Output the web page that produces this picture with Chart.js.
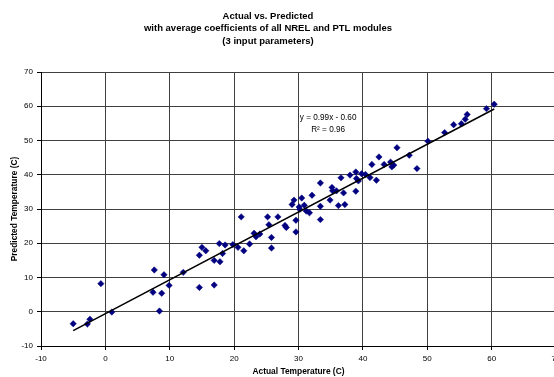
<!DOCTYPE html>
<html>
<head>
<meta charset="utf-8">
<script src="https://cdn.jsdelivr.net/npm/chart.js@4"></script>
<style>
    html, body { margin: 0; padding: 0; background: #fff; overflow: hidden; }
    canvas { display: block; }
</style>
</head>
<body>
<canvas id="chart" width="600" height="377"></canvas>
<script>
// ==================== DATA ====================
const titleLines = ['Actual vs. Predicted', 'with average coefficients of all NREL and PTL modules', '(3 input parameters)'];
const xAxisTitle = 'Actual Temperature (C)';
const yAxisTitle = 'Predicted Temperature (C)';

// actual temperature (x) and predicted temperature (y)
const actualTemps = [
    -5.0, -2.8, -2.4, -0.7, 1.0, 7.6, 7.4, 8.4, 8.75, 9.1,
    9.9, 12.1, 14.6, 15.0, 15.6, 14.6, 16.9, 16.9, 17.8, 18.2,
    17.7, 18.6, 19.8, 20.6, 21.5, 21.1, 22.4, 23.1, 23.4, 24.0,
    25.4, 25.8, 25.8, 27.9, 28.1, 29.6, 29.6, 25.2, 26.8, 29.0,
    29.3, 30.5, 30.1, 30.2, 30.9, 31.2, 31.7, 32.1, 33.4, 33.4,
    33.4, 34.9, 35.2, 35.3, 35.9, 36.2, 36.6, 37.0, 37.2, 38.0,
    38.9, 39.0, 39.3, 38.9, 39.8, 40.4, 41.1, 41.4, 42.1, 42.5,
    43.3, 44.3, 44.5, 44.8, 45.3, 47.2, 48.4, 50.1, 52.7, 54.1,
    55.3, 55.9, 56.2, 59.2, 60.4
];
const predictedTemps = [
    -3.5, -3.6, -2.2, 8.2, -0.1, 12.2, 5.7, 0.2, 5.4, 10.8,
    7.7, 11.5, 16.5, 18.8, 17.8, 7.1, 7.8, 15.0, 14.6, 17.0,
    19.9, 19.5, 19.6, 18.8, 17.8, 27.7, 19.8, 22.9, 21.9, 22.7,
    25.4, 21.7, 18.6, 25.2, 24.6, 23.3, 26.7, 27.7, 27.7, 31.3,
    32.6, 33.2, 30.6, 29.9, 31.1, 29.4, 28.9, 34.0, 37.6, 30.8,
    26.9, 32.6, 36.3, 35.3, 35.3, 31.0, 39.1, 34.7, 31.3, 39.9,
    40.8, 38.9, 38.2, 35.2, 40.3, 40.1, 39.2, 43.0, 38.4, 45.2,
    43.0, 43.7, 42.3, 42.8, 47.9, 45.7, 41.8, 49.8, 52.3, 54.6,
    54.9, 56.2, 57.6, 59.3, 60.6
];

// linear trendline end points (y = 0.99x - 0.60)
const trendX = [-5.0, 60.4];
const trendY = [-5.5, 59.2];
const trendLabel = ['y = 0.99x - 0.60', 'R\u00b2 = 0.96'];
const trendLabelAt = { x: 34.6, y: 56.6 };

const xTicks = [-10, 0, 10, 20, 30, 40, 50, 60, 70];
const yTicks = [-10, 0, 10, 20, 30, 40, 50, 60, 70];

// ==================== PLUGINS ====================
const FONT = 'Arial, "Liberation Sans", sans-serif';

const headerTitle = {
    id: 'headerTitle',
    afterDraw(chart) {
        const ctx = chart.ctx;
        ctx.save();
        ctx.fillStyle = '#000';
        ctx.font = 'bold 9.5px ' + FONT;
        ctx.textAlign = 'center';
        ctx.textBaseline = 'middle';
        titleLines.forEach((line, i) => ctx.fillText(line, 268, 16 + i * 12.8));
        ctx.restore();
    }
};

const trendText = {
    id: 'trendText',
    afterDatasetsDraw(chart) {
        const ctx = chart.ctx;
        const x = chart.scales.x.getPixelForValue(trendLabelAt.x);
        const y = chart.scales.y.getPixelForValue(trendLabelAt.y);
        ctx.save();
        ctx.fillStyle = '#000';
        ctx.font = '8.2px ' + FONT;
        ctx.textAlign = 'center';
        ctx.textBaseline = 'middle';
        ctx.fillText(trendLabel[0], x, y);
        ctx.fillText(trendLabel[1], x, y + 12.3);
        ctx.restore();
    }
};

// ==================== CHART ====================
const points = actualTemps.map((v, i) => ({ x: v, y: predictedTemps[i] }));
const trendPoints = trendX.map((v, i) => ({ x: v, y: trendY[i] }));

new Chart(document.getElementById('chart'), {
    type: 'scatter',
    data: {
        datasets: [{
            label: 'Predicted',
            data: points,
            pointStyle: 'rectRot',
            pointRadius: 3.2,
            pointHoverRadius: 3.2,
            backgroundColor: '#000080',
            borderColor: '#000080',
            borderWidth: 0.5,
            order: 2
        }, {
            type: 'line',
            label: 'Linear',
            data: trendPoints,
            borderColor: '#000',
            borderWidth: 1.5,
            pointRadius: 0,
            fill: false,
            order: 1
        }]
    },
    options: {
        responsive: false,
        animation: false,
        events: [],
        layout: {
            padding: { left: 0, right: 44, top: 72, bottom: 0 }
        },
        plugins: {
            legend: { display: false },
            tooltip: { enabled: false }
        },
        scales: {
            x: {
                type: 'linear',
                min: -10,
                max: 70,
                afterBuildTicks: scale => { scale.ticks = xTicks.map(v => ({ value: v })); },
                afterFit: scale => { scale.height = 31; },
                ticks: {
                    color: '#000',
                    font: { family: FONT, size: 8 },
                    padding: 4,
                    maxRotation: 0
                },
                grid: {
                    color: '#404040',
                    lineWidth: 1,
                    tickLength: 4,
                    tickColor: '#000'
                },
                border: { color: '#000', width: 1 },
                title: {
                    display: true,
                    text: xAxisTitle,
                    color: '#000',
                    font: { family: FONT, size: 8.4, weight: 'bold' },
                    padding: { top: 0, bottom: 0 }
                }
            },
            y: {
                type: 'linear',
                min: -10,
                max: 70,
                afterBuildTicks: scale => { scale.ticks = yTicks.map(v => ({ value: v })); },
                afterFit: scale => { scale.width = 41; },
                ticks: {
                    color: '#000',
                    font: { family: FONT, size: 8 },
                    padding: 4
                },
                grid: {
                    color: '#404040',
                    lineWidth: 1,
                    tickLength: 4,
                    tickColor: '#000'
                },
                border: { color: '#000', width: 1 },
                title: {
                    display: true,
                    text: yAxisTitle,
                    color: '#000',
                    font: { family: FONT, size: 8.4, weight: 'bold' },
                    padding: { top: 10, bottom: 0 }
                }
            }
        }
    },
    plugins: [headerTitle, trendText]
});
</script>
</body>
</html>
